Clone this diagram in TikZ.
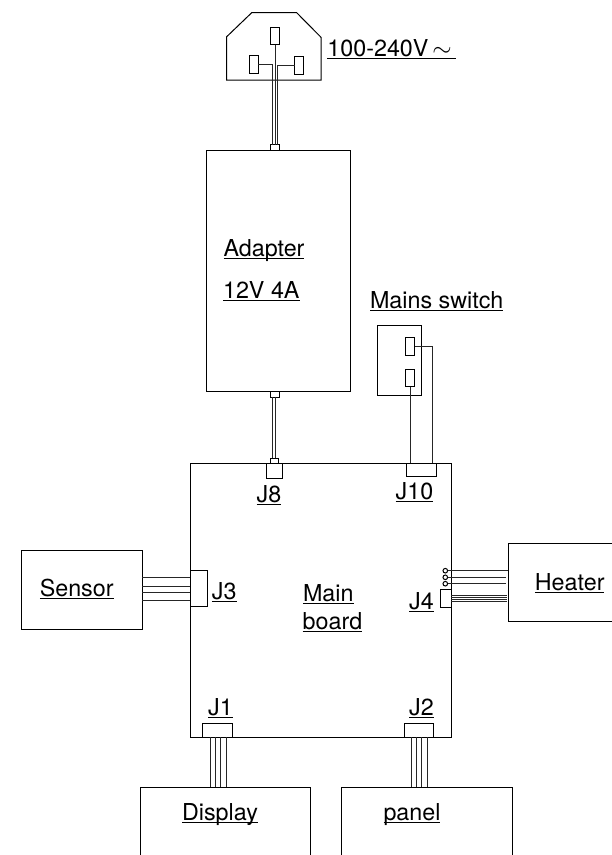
\documentclass[tikz,border=0pt]{standalone}
\usepackage{fontspec}
\setmainfont{TeX Gyre Heros}
\tikzset{
  part/.style={draw=black,line width=1pt,inner sep=0pt,outer sep=0pt},
  wire/.style={black!85,line width=1pt},
  lab/.style={anchor=base,inner sep=0pt,font=\fontsize{23.3}{26}\selectfont}
}
\newcommand{\ulab}[1]{\setbox0\hbox{#1}\rlap{\copy0}\rule[-2.8pt]{\wd0}{0.9pt}}

\begin{document}
\begin{tikzpicture}[x=1pt,y=-1pt]
  \clip (0,0) rectangle (612,855);
  % --- mains plug ---
  \draw[line width=1pt] (226.7,80) -- (226.7,36.7) -- (251.7,12.7) -- (296.7,12.7) -- (321,37.3) -- (321,80) -- cycle;
  \node[part,minimum width=8.6pt,minimum height=17.4pt] (pinT) at (275,36) {};
  \node[part,minimum width=9pt,minimum height=18pt] (pinL) at (253.5,64.3) {};
  \node[part,minimum width=8.6pt,minimum height=18pt] (pinR) at (299,65.7) {};
  % --- adapter ---
  \node[part,minimum width=144.7pt,minimum height=241.3pt] (adapter) at (278.35,270.65) {};
  \node[part,minimum width=8.6pt,minimum height=5.3pt] (conIn) at (275,147.35) {};
  \node[part,minimum width=8.7pt,minimum height=6pt] (conOut) at (274.65,394.3) {};
  \draw[wire] (pinT.south) -- (conIn.north);
  \draw[wire] (pinL.east) -| (272.3,0 |- conIn.north);
  \draw[wire] (pinR.west) -| (277.3,0 |- conIn.north);
  % --- main board and its connectors ---
  \node[part,minimum width=260.7pt,minimum height=273.7pt] (board) at (320.65,600.15) {};
  \node[part,minimum width=8.4pt,minimum height=5.3pt] (conJ8) at (274.5,460.65) {};
  \node[part,fill=white,minimum width=15.3pt,minimum height=15pt] (J8) at (274.35,470.8) {};
  \node[part,minimum width=29.3pt,minimum height=13pt] (J10) at (421.35,469.8) {};
  \node[part,fill=white,minimum width=17pt,minimum height=35.6pt] (J3) at (198.8,588.5) {};
  \node[part,minimum width=10.7pt,minimum height=18.4pt] (J4) at (445.65,598.5) {};
  \node[part,minimum width=29.3pt,minimum height=13.7pt] (J1) at (217.35,730.15) {};
  \node[part,minimum width=29.3pt,minimum height=13.7pt] (J2) at (418.65,730.15) {};
  \foreach \x in {272.7,275} \draw[wire] (\x,0 |- conOut.south) -- (\x,0 |- conJ8.north);
  % --- mains switch ---
  \node[part,minimum width=44.4pt,minimum height=70pt] (switch) at (399.5,360) {};
  \node[part,minimum width=9.4pt,minimum height=18pt] (swA) at (410,346.7) {};
  \node[part,minimum width=9pt,minimum height=17.7pt] (swB) at (410.2,377.85) {};
  \draw[wire] (swB.south) -- (swB.south |- J10.north);
  \draw[wire] (swA.east) -| (432.5,0 |- J10.north);
  % --- outer units ---
  \node[part,minimum width=121.3pt,minimum height=78.3pt] (sensor) at (81.65,589.85) {};
  \node[part,minimum width=140pt,minimum height=78.4pt] (heater) at (578,582.5) {};
  \node[part,minimum width=170pt,minimum height=100pt] (display) at (225,837.3) {};
  \node[part,minimum width=170.7pt,minimum height=100pt] (panel) at (426.65,837.3) {};
  \foreach \y in {577.7,586.7,592.7,600} \draw[wire] (sensor.east |- 0,\y) -- (J3.west |- 0,\y);
  \foreach \y in {595,597,599,601} \draw[wire] (J4.east |- 0,\y) -- (506.7,\y);
  \foreach \x in {210,215,220.7,226} \draw[wire] (\x,0 |- J1.south) -- (\x,0 |- display.north);
  \foreach \x in {411.7,416,421.7,427.3} \draw[wire] (\x,0 |- J2.south) -- (\x,0 |- panel.north);
  % --- heater terminals ---
  \foreach \n/\y/\e in {a/570.7/508,b/577.3/506,c/583.7/506} {
    \node[part,circle,minimum size=4.6pt] (ring\n) at (445.3,\y) {};
    \draw[wire] (ring\n.east) -- (\e,\y);
  }
  % --- labels ---
  \node[lab] (lblMains) at (391.5,56.5) {\ulab{100-240V\,$\sim$\,}};
  \node[lab] (lblAdapter) at (264,256) {\ulab{Adapter}};
  \node[lab] (lblRating) at (261.3,298) {\ulab{12V 4A}};
  \node[lab] (lblSwitch) at (436.7,308) {\ulab{Mains switch}};
  \node[lab] (lblJ8) at (269,502) {\ulab{J8}};
  \node[lab] (lblJ10) at (414.5,499) {\ulab{J10}};
  \node[lab] (lblJ3) at (224.2,599) {\ulab{J3}};
  \node[lab] (lblJ4) at (421.5,609) {\ulab{J4}};
  \node[lab] (lblJ1) at (220.5,715) {\ulab{J1}};
  \node[lab] (lblJ2) at (421.5,715) {\ulab{J2}};
  \node[lab] (lblMain) at (328.3,601) {\ulab{Main}};
  \node[lab] (lblBoard) at (332.5,629) {\ulab{board}};
  \node[lab] (lblSensor) at (76.7,596) {\ulab{Sensor}};
  \node[lab] (lblHeater) at (569.7,590) {\ulab{Heater}};
  \node[lab] (lblDisplay) at (220,820) {\ulab{Display}};
  \node[lab] (lblPanel) at (412,820) {\ulab{panel}};
\end{tikzpicture}
\end{document}
